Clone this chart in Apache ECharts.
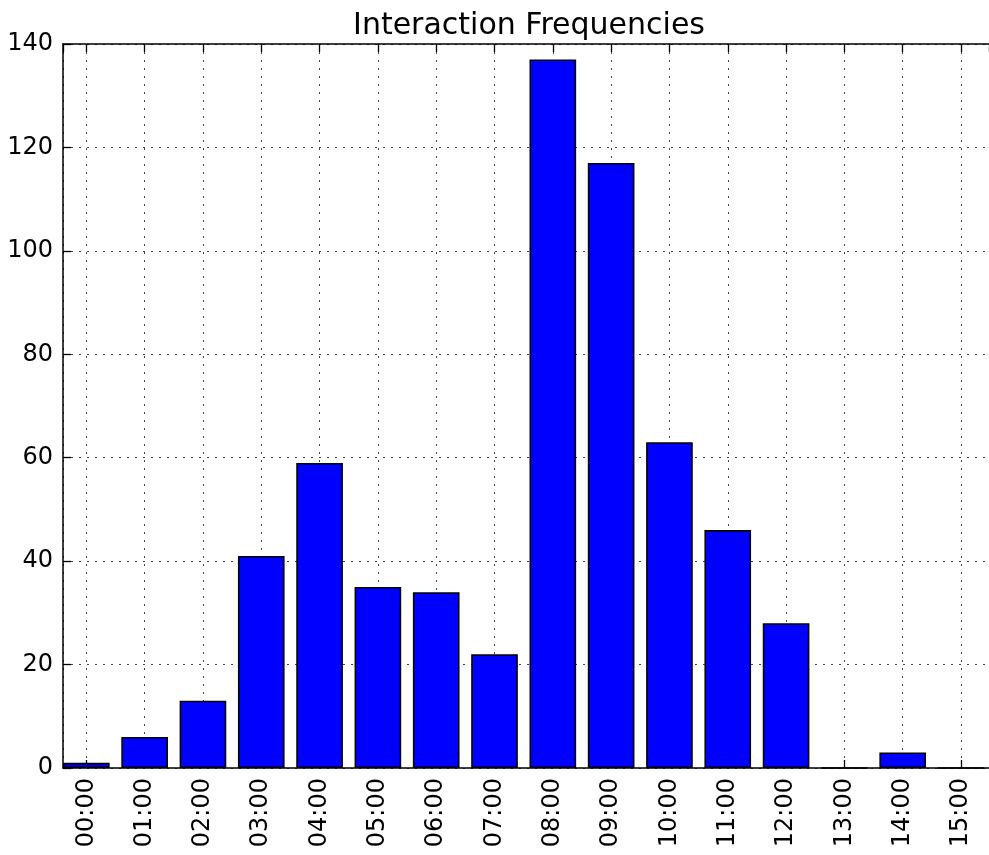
<!DOCTYPE html>
<html>
<head>
<meta charset="utf-8">
<script src="https://cdn.jsdelivr.net/npm/echarts@6/dist/echarts.min.js"></script>
<style>
  html, body { margin: 0; padding: 0; background: #fff; }
  #chart { width: 989px; height: 855px; }
</style>
</head>
<body>
<div id="chart"></div>
<script>
// hour index on the x axis and matching tick text
const hours = [0, 1, 2, 3, 4, 5, 6, 7, 8, 9, 10, 11, 12, 13, 14, 15]
const hourLabels = [
  '00:00', '01:00', '02:00', '03:00', '04:00', '05:00', '06:00', '07:00',
  '08:00', '09:00', '10:00', '11:00', '12:00', '13:00', '14:00', '15:00',
]
const counts = [1, 6, 13, 41, 59, 35, 34, 22, 137, 117, 63, 46, 28, 0, 3, 0]
const yTicks = [0, 20, 40, 60, 80, 100, 120, 140]

const fontFamily = '"DejaVu Sans", sans-serif'
const gridLine = {
  show: true,
  lineStyle: { color: '#444', width: 1, type: [2, 6] },
}
const innerTick = {
  show: true,
  inside: true,
  length: 8,
  lineStyle: { color: '#000', width: 1.3 },
}
// frame drawn with axis lines: left, bottom, top (the right side is cut off in the source)
const frameLine = {
  show: true,
  onZero: false,
  lineStyle: { color: '#000', width: 1.5 },
}

const chart = echarts.init(document.getElementById('chart'), null, { renderer: 'canvas' })

const xCommon = {
  type: 'value',
  min: -0.4,
  max: 15.48,
  minInterval: 1,
  maxInterval: 1,
  splitNumber: 16,
  axisLine: frameLine,
  axisTick: innerTick,
}

chart.setOption({
  backgroundColor: '#fff',
  animation: false,
  title: {
    text: 'Interaction Frequencies',
    left: 524,
    top: 6,
    textAlign: 'center',
    textStyle: {
      fontFamily,
      fontSize: 30,
      fontWeight: 'normal',
      color: '#000',
    },
  },
  grid: {
    left: 63,
    right: 0,
    top: 44,
    bottom: 87,
  },
  xAxis: [
    {
      ...xCommon,
      position: 'bottom',
      axisLabel: {
        rotate: 90,
        margin: 10,
        showMinLabel: false,
        showMaxLabel: false,
        color: '#000',
        fontFamily,
        fontSize: 24,
        formatter: (v) => (Number.isInteger(v) && hourLabels[v] !== undefined ? hourLabels[v] : ''),
      },
      splitLine: gridLine,
    },
    {
      ...xCommon,
      position: 'top',
      axisLabel: { show: false },
      splitLine: { show: false },
    },
  ],
  yAxis: {
    type: 'value',
    position: 'left',
    min: yTicks[0],
    max: yTicks[yTicks.length - 1],
    interval: 20,
    axisLine: frameLine,
    axisTick: innerTick,
    axisLabel: {
      margin: 10,
      color: '#000',
      fontFamily,
      fontSize: 24,
    },
    splitLine: gridLine,
  },
  series: [
    {
      type: 'bar',
      xAxisIndex: 0,
      barWidth: '80%',
      data: hours.map((h, i) => [h, counts[i]]),
      itemStyle: {
        color: '#0000ff',
        borderColor: '#000',
        borderWidth: 1.6,
      },
    },
  ],
})
</script>
</body>
</html>
